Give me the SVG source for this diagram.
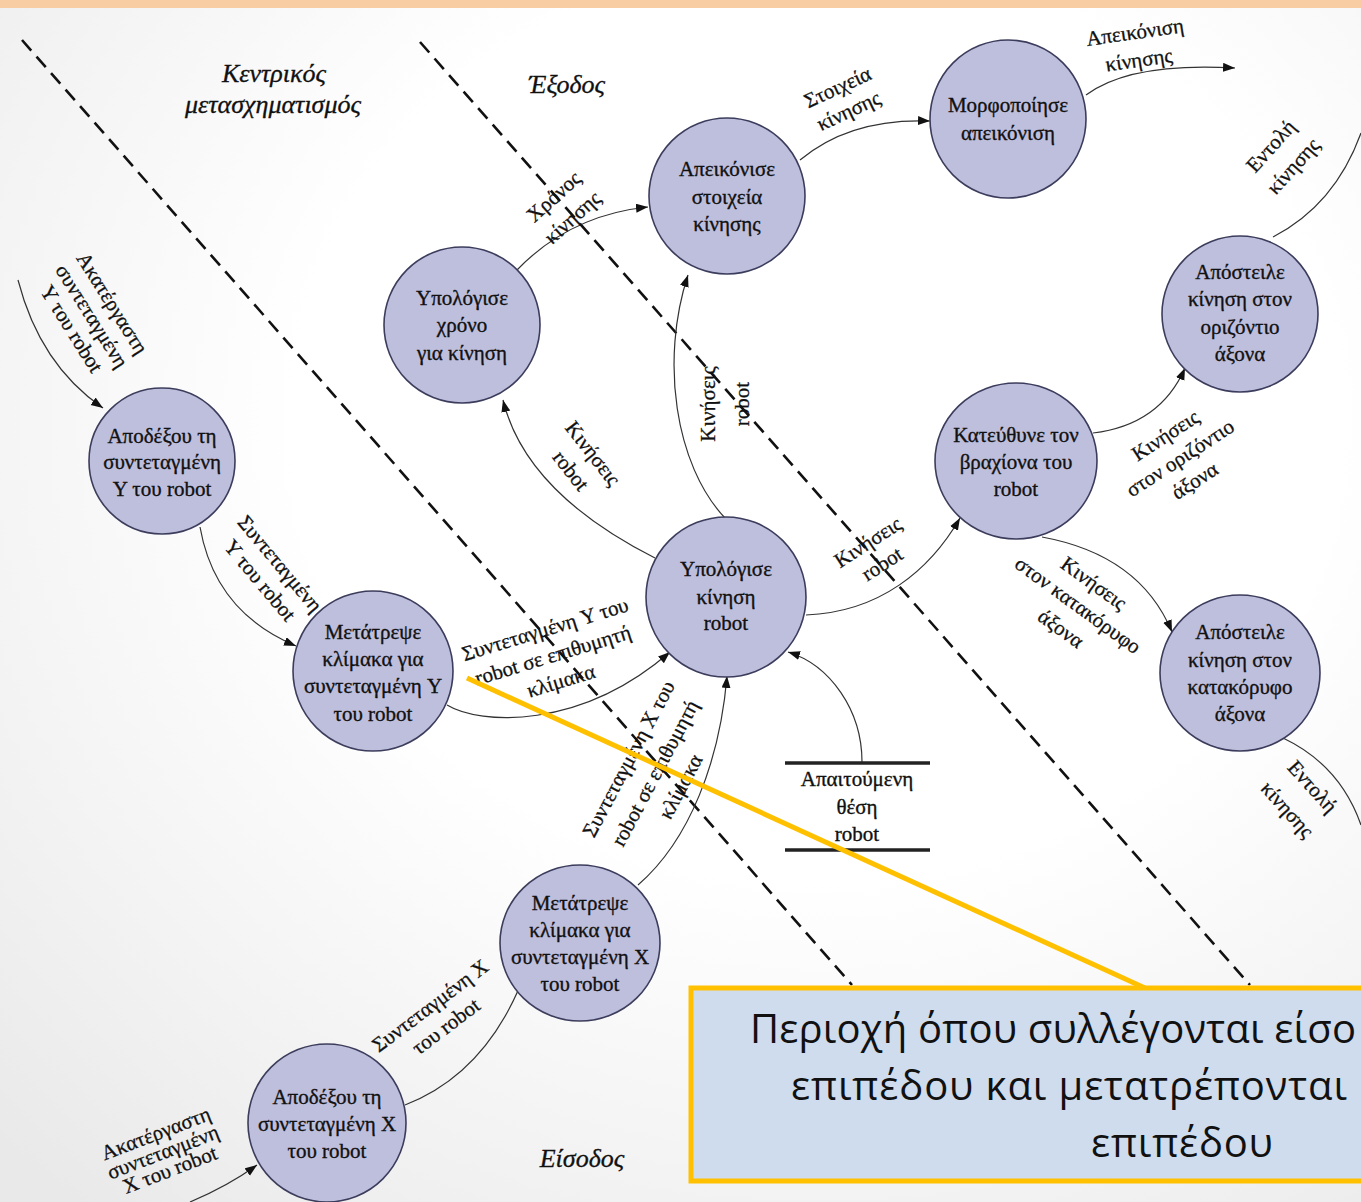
<svg xmlns="http://www.w3.org/2000/svg" width="1361" height="1202" viewBox="0 0 1361 1202">
  <defs>
    <radialGradient id="bg" cx="0.6" cy="0.35" r="0.85">
      <stop offset="0.45" stop-color="#ffffff"/>
      <stop offset="1" stop-color="#e9e9e9"/>
    </radialGradient>
    <marker id="arrow" markerUnits="userSpaceOnUse" markerWidth="13" markerHeight="10" refX="12" refY="4.5" orient="auto">
      <path d="M0,0 L12,4.5 L0,9 z" fill="#111"/>
    </marker>
    <style>
      .node { fill: #bebfdd; stroke: #3c3c5c; stroke-width: 1.6; }
      .ntext { font-family: "Liberation Serif", "DejaVu Serif", serif; font-size: 21px; fill: #111; stroke: #111; stroke-width: 0.35; text-anchor: middle; }
      .flow { fill: none; stroke: #333; stroke-width: 1.2; }
      .arr { marker-end: url(#arrow); }
      .lbl { font-family: "Liberation Serif", "DejaVu Serif", serif; font-size: 21px; fill: #111; stroke: #111; stroke-width: 0.3; text-anchor: middle; dominant-baseline: central; }
      .zone { font-family: "Liberation Serif", "DejaVu Serif", serif; font-size: 26px; font-style: italic; fill: #111; stroke: #111; stroke-width: 0.3; text-anchor: middle; }
      .boundary { fill: none; stroke: #111; stroke-width: 2.6; stroke-dasharray: 14 8; }
      .store { stroke: #222; stroke-width: 3.5; }
      .note { font-family: "Open Sans", "Noto Sans", "DejaVu Sans", sans-serif; font-size: 40px; fill: #111; }
    </style>
  </defs>

  <!-- page background and top band -->
  <rect x="0" y="0" width="1361" height="1202" fill="url(#bg)"/>
  <rect x="0" y="0" width="1361" height="8" fill="#f8cda3"/>

  <!-- boundaries between input, central transform and output -->
  <g id="boundaries">
    <line class="boundary" x1="22" y1="40" x2="852" y2="985"/>
    <line class="boundary" x1="420" y1="42" x2="1250" y2="985"/>
  </g>

  <!-- region titles -->
  <g id="zones">
    <text class="zone" x="274" y="82">Κεντρικός</text>
    <text class="zone" x="273" y="113">μετασχηματισμός</text>
    <text class="zone" x="567" y="93">Έξοδος</text>
    <text class="zone" x="582" y="1167">Είσοδος</text>
  </g>

  <!-- data flows -->
  <g id="connectors">
    <path class="flow arr" d="M18,280 Q40,365 103,408"/>
    <path class="flow arr" d="M200,527 Q215,612 296,646"/>
    <path class="flow arr" d="M447,705 C480,725 580,730 670,652"/>
    <path class="flow arr" d="M405,1105 Q490,1072 527,968"/>
    <path class="flow arr" d="M190,1202 Q228,1186 257,1165"/>
    <path class="flow arr" d="M638,885 C690,840 720,760 727,676"/>
    <path class="flow arr" d="M862,762 C862,710 830,665 788,652"/>
    <path class="flow arr" d="M655,558 C580,520 520,470 503,400"/>
    <path class="flow arr" d="M725,518 C675,465 660,360 688,275"/>
    <path class="flow arr" d="M517,270 Q570,215 648,207"/>
    <path class="flow arr" d="M800,160 Q850,118 930,121"/>
    <path class="flow arr" d="M1086,95 Q1130,62 1235,68"/>
    <path class="flow arr" d="M806,615 C880,612 930,570 960,518"/>
    <path class="flow arr" d="M1093,433 Q1160,425 1185,368"/>
    <path class="flow arr" d="M1042,537 Q1140,555 1172,632"/>
    <path class="flow" d="M1273,237 Q1335,205 1361,133"/>
    <path class="flow" d="M1283,738 Q1340,765 1361,825"/>

    <!-- flow labels -->
    <g transform="translate(92,316) rotate(58)">
      <text class="lbl" y="-24">Ακατέργαστη</text>
      <text class="lbl" y="0">συντεταγμένη</text>
      <text class="lbl" y="24">Y του robot</text>
    </g>
    <g transform="translate(270,572) rotate(50)">
      <text class="lbl" y="-13">Συντεταγμένη</text>
      <text class="lbl" y="13">Y του robot</text>
    </g>
    <g transform="translate(553,655) rotate(-17)">
      <text class="lbl" y="-27">Συντεταγμένη Y του</text>
      <text class="lbl" y="0">robot σε επιθυμητή</text>
      <text class="lbl" y="27">κλίμακα</text>
    </g>
    <g transform="translate(438,1016) rotate(-37)">
      <text class="lbl" y="-13">Συντεταγμένη X</text>
      <text class="lbl" y="13">του robot</text>
    </g>
    <g transform="translate(163,1152) rotate(-21)">
      <text class="lbl" y="-20">Ακατέργαστη</text>
      <text class="lbl" y="0">συντεταγμένη</text>
      <text class="lbl" y="19">X του robot</text>
    </g>
    <g transform="translate(655,773) rotate(-62)">
      <text class="lbl" y="-30">Συντεταγμένη X του</text>
      <text class="lbl" y="0">robot σε επιθυμητή</text>
      <text class="lbl" y="29">κλίμακα</text>
    </g>
    <g transform="translate(582,462) rotate(52)">
      <text class="lbl" y="-14">Κινήσεις</text>
      <text class="lbl" y="14">robot</text>
    </g>
    <g transform="translate(725,404) rotate(-90)">
      <text class="lbl" y="-17">Κινήσεις</text>
      <text class="lbl" y="17">robot</text>
    </g>
    <g transform="translate(563,207) rotate(-42)">
      <text class="lbl" y="-14">Χρόνος</text>
      <text class="lbl" y="14">κίνησης</text>
    </g>
    <g transform="translate(843,99) rotate(-25)">
      <text class="lbl" y="-13">Στοιχεία</text>
      <text class="lbl" y="13">κίνησης</text>
    </g>
    <g transform="translate(1137,46) rotate(-8)">
      <text class="lbl" y="-14">Απεικόνιση</text>
      <text class="lbl" y="14">κίνησης</text>
    </g>
    <g transform="translate(875,553) rotate(-33)">
      <text class="lbl" y="-13">Κινήσεις</text>
      <text class="lbl" y="13">robot</text>
    </g>
    <g transform="translate(1180,458) rotate(-33)">
      <text class="lbl" y="-27">Κινήσεις</text>
      <text class="lbl" y="0">στον οριζόντιο</text>
      <text class="lbl" y="27">άξονα</text>
    </g>
    <g transform="translate(1078,605) rotate(36)">
      <text class="lbl" y="-27">Κινήσεις</text>
      <text class="lbl" y="0">στον κατακόρυφο</text>
      <text class="lbl" y="29">άξονα</text>
    </g>
    <g transform="translate(1282,156) rotate(-48)">
      <text class="lbl" y="-15">Εντολή</text>
      <text class="lbl" y="15">κίνησης</text>
    </g>
    <g transform="translate(1300,798) rotate(48)">
      <text class="lbl" y="-17">Εντολή</text>
      <text class="lbl" y="17">κίνησης</text>
    </g>
  </g>

  <!-- data store -->
  <g id="store-required-position">
    <line class="store" x1="785" y1="763" x2="930" y2="763"/>
    <line class="store" x1="785" y1="850" x2="930" y2="850"/>
    <text class="ntext" x="857" y="786">Απαιτούμενη</text>
    <text class="ntext" x="857" y="814">θέση</text>
    <text class="ntext" x="857" y="841">robot</text>
  </g>

  <!-- processes -->
  <g id="show-motion-data">
    <circle class="node" cx="727" cy="196" r="78"/>
    <text class="ntext" x="727" y="176">Απεικόνισε</text>
    <text class="ntext" x="727" y="204">στοιχεία</text>
    <text class="ntext" x="727" y="231">κίνησης</text>
  </g>
  <g id="format-display">
    <ellipse class="node" cx="1008" cy="119" rx="78" ry="79"/>
    <text class="ntext" x="1008" y="112">Μορφοποίησε</text>
    <text class="ntext" x="1008" y="140">απεικόνιση</text>
  </g>
  <g id="compute-time">
    <circle class="node" cx="462" cy="325" r="78"/>
    <text class="ntext" x="462" y="305">Υπολόγισε</text>
    <text class="ntext" x="462" y="332">χρόνο</text>
    <text class="ntext" x="462" y="360">για κίνηση</text>
  </g>
  <g id="send-horizontal">
    <circle class="node" cx="1240" cy="314" r="78"/>
    <text class="ntext" x="1240" y="279">Απόστειλε</text>
    <text class="ntext" x="1240" y="306">κίνηση στον</text>
    <text class="ntext" x="1240" y="334">οριζόντιο</text>
    <text class="ntext" x="1240" y="361">άξονα</text>
  </g>
  <g id="steer-arm">
    <ellipse class="node" cx="1016" cy="461" rx="81" ry="78"/>
    <text class="ntext" x="1016" y="442">Κατεύθυνε τον</text>
    <text class="ntext" x="1016" y="469">βραχίονα του</text>
    <text class="ntext" x="1016" y="496">robot</text>
  </g>
  <g id="accept-y">
    <circle class="node" cx="162" cy="461" r="73"/>
    <text class="ntext" x="162" y="443">Αποδέξου τη</text>
    <text class="ntext" x="162" y="469">συντεταγμένη</text>
    <text class="ntext" x="162" y="496">Y του robot</text>
  </g>
  <g id="compute-motion">
    <circle class="node" cx="726" cy="597" r="80"/>
    <text class="ntext" x="726" y="576">Υπολόγισε</text>
    <text class="ntext" x="726" y="604">κίνηση</text>
    <text class="ntext" x="726" y="630">robot</text>
  </g>
  <g id="send-vertical">
    <ellipse class="node" cx="1240" cy="673" rx="80" ry="78"/>
    <text class="ntext" x="1240" y="639">Απόστειλε</text>
    <text class="ntext" x="1240" y="667">κίνηση στον</text>
    <text class="ntext" x="1240" y="694">κατακόρυφο</text>
    <text class="ntext" x="1240" y="721">άξονα</text>
  </g>
  <g id="scale-y">
    <circle class="node" cx="373" cy="671" r="80"/>
    <text class="ntext" x="373" y="639">Μετάτρεψε</text>
    <text class="ntext" x="373" y="666">κλίμακα για</text>
    <text class="ntext" x="373" y="693">συντεταγμένη Y</text>
    <text class="ntext" x="373" y="721">του robot</text>
  </g>
  <g id="scale-x">
    <ellipse class="node" cx="580" cy="943" rx="80" ry="78"/>
    <text class="ntext" x="580" y="910">Μετάτρεψε</text>
    <text class="ntext" x="580" y="937">κλίμακα για</text>
    <text class="ntext" x="580" y="964">συντεταγμένη X</text>
    <text class="ntext" x="580" y="991">του robot</text>
  </g>
  <g id="accept-x">
    <circle class="node" cx="327" cy="1123" r="79"/>
    <text class="ntext" x="327" y="1104">Αποδέξου τη</text>
    <text class="ntext" x="327" y="1131">συντεταγμένη X</text>
    <text class="ntext" x="327" y="1158">του robot</text>
  </g>

  <!-- callout -->
  <g id="callout">
    <line x1="467" y1="678" x2="1145" y2="988" stroke="#ffc000" stroke-width="5"/>
    <rect x="691" y="988" width="700" height="193" fill="#cfdcee" stroke="#ffc000" stroke-width="5"/>
    <text class="note" x="750" y="1043" textLength="606">Περιοχή όπου συλλέγονται είσο</text>
    <text class="note" x="791" y="1100" textLength="556">επιπέδου και μετατρέπονται</text>
    <text class="note" x="1091" y="1157" textLength="182">επιπέδου</text>
  </g>
</svg>
